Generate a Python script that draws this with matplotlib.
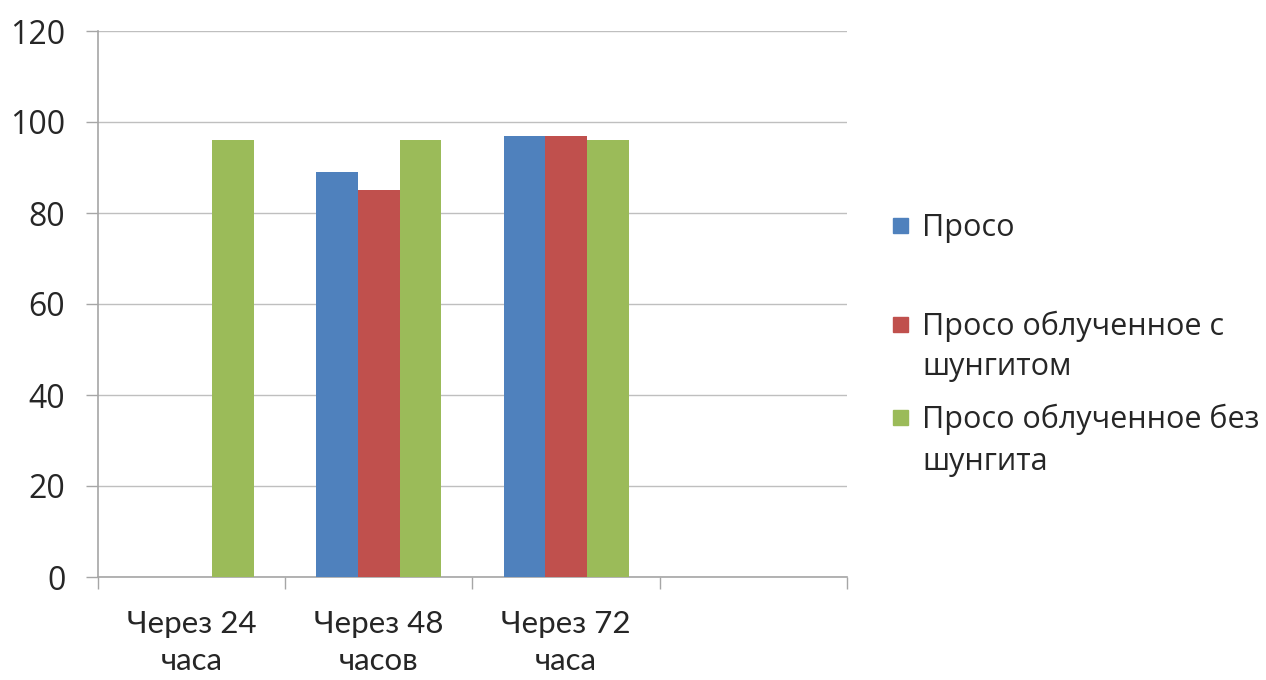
import matplotlib
matplotlib.use("Agg")
import matplotlib.pyplot as plt
from matplotlib.patches import Rectangle
from matplotlib.transforms import blended_transform_factory
import numpy as np

# Data
categories = ["Через 24\nчаса", "Через 48\nчасов", "Через 72\nчаса", ""]
series_names = ["Просо", "Просо облученное с\nшунгитом", "Просо облученное без\nшунгита"]
proso = [0, 89, 97, np.nan]
proso_shungite = [0, 85, 97, np.nan]
proso_no_shungite = [96, 96, 96, np.nan]
series_values = [proso, proso_shungite, proso_no_shungite]
colors = ["#4F81BD", "#C0504D", "#9BBB59"]
y_ticks = [0, 20, 40, 60, 80, 100, 120]

plt.rcParams["font.family"] = ["Open Sans", "DejaVu Sans"]
text_color = "#262626"
axis_color = "#A6A6A6"

W, H = 1266, 680
fig = plt.figure(figsize=(W / 100, H / 100), dpi=100)
ax = fig.add_axes([98 / W, 1 - 577 / H, (847 - 98) / W, (577 - 31) / H])

n = len(series_values)
width = 1 / 4.5
x = np.arange(len(categories)) + 0.5
for i, (vals, c) in enumerate(zip(series_values, colors)):
    offs = (i - (n - 1) / 2) * width
    v = np.nan_to_num(np.array(vals, dtype=float))
    ax.bar(x + offs, v, width=width, color=c, zorder=3, linewidth=0)

ax.set_xlim(0, len(categories))
ax.set_ylim(0, 120)
ax.set_yticks(y_ticks)
ax.set_yticklabels([str(t) for t in y_ticks], fontsize=23, color=text_color)
ax.yaxis.grid(True, color="#BFBFBF", linewidth=1, zorder=0)

# Category boundaries carry the tick marks
ax.set_xticks(np.arange(len(categories) + 1))
ax.set_xticklabels([])
ax.tick_params(axis="x", length=8.5, color=axis_color, width=1, direction="out")
ax.tick_params(axis="y", length=8.5, color=axis_color, width=1, pad=15)

for side in ["top", "right"]:
    ax.spines[side].set_visible(False)
for side in ["left", "bottom"]:
    ax.spines[side].set_color(axis_color)
    ax.spines[side].set_linewidth(1.2)

# Category names, one text per line, centered under each group
cat_trans = blended_transform_factory(ax.transData, fig.transFigure)
line_baselines = [633, 670]
for xc, label in zip(x, categories):
    for line, yb in zip(label.split("\n"), line_baselines):
        if line:
            ax.text(xc, 1 - yb / H, line, transform=cat_trans, ha="center",
                    va="baseline", fontsize=22.5, color=text_color,
                    family=["Lato", "DejaVu Sans"], clip_on=False)

# Legend: swatch aligned with the first line of each label
legend_baselines = [[236], [335, 375], [428, 470]]
sw = 15
for name, c, bases in zip(series_names, colors, legend_baselines):
    yc = bases[0] - 10.5
    fig.patches.append(Rectangle((893 / W, 1 - (yc + sw / 2) / H), sw / W, sw / H,
                                 transform=fig.transFigure, color=c, figure=fig))
    for line, yb in zip(name.split("\n"), bases):
        fig.text(922 / W, 1 - yb / H, line, fontsize=22, color=text_color,
                 va="baseline", ha="left")

fig.savefig("out.png", dpi=100, facecolor="white")
